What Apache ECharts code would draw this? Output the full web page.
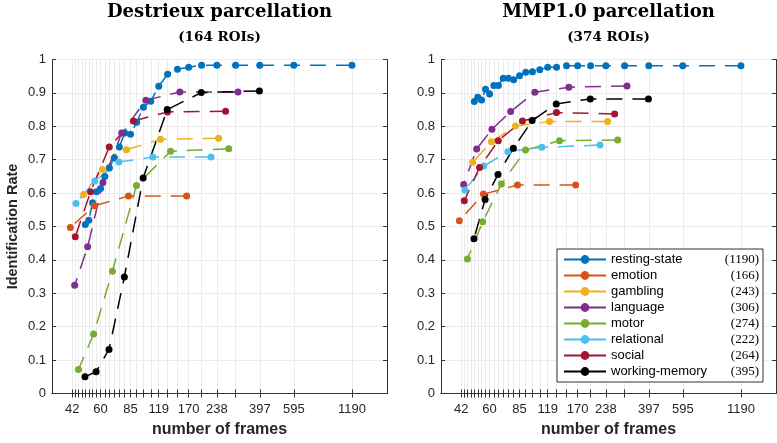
<!DOCTYPE html>
<html><head><meta charset="utf-8">
<script src="https://cdn.jsdelivr.net/npm/echarts@6/dist/echarts.min.js"></script>
<style>html,body{margin:0;padding:0;background:#fff}#c{width:777px;height:443px}</style>
</head><body><div id="c"></div>
<script>
// ---------- data ----------
const seriesNames = ['resting-state','emotion','gambling','language','motor','relational','social','working-memory'];
const taskCounts = [1190,166,243,306,274,222,264,395];
const seriesColors = ['#0072BD','#D95319','#EDB120','#7E2F8E','#77AC30','#4DBEEE','#A2142F','#000000'];

const tickFrames = [1190,595,396.7,297.5,238,198.3,170,148.8,132.2,119,108.2,99.2,91.5,85,79.3,74.4,70,66.1,62.6,59.5,56.7,54.1,51.7,49.6,47.6,45.8,44.1,42.5];
const labelFrames = [42.5,59.5,85,119,170,238,396.7,595,1190];
const labelTexts = ['42','60','85','119','170','238','397','595','1190'];

const restingFrames = [1190,595,396.7,297.5,238,198.3,170,148.8,132.2,119,108.2,99.2,91.5,85,79.3,74.4,70,66.1,62.6,59.5,56.7,54.1,51.7,49.6];
const emotionFrames = [166,83,55.3,41.5];
const gamblingFrames = [243,121.5,81,60.8,48.6];
const languageFrames = [306,153,102,76.5,61.2,51,43.7];
const motorFrames = [274,137,91.3,68.5,54.8,45.7];
const relationalFrames = [222,111,74,55.5,44.4];
const socialFrames = [264,132,88,66,52.8,44];
const wmFrames = [395,197.5,131.7,98.8,79,65.8,56.4,49.4];

// Destrieux parcellation
const restingD = [0.983,0.983,0.983,0.983,0.983,0.983,0.977,0.971,0.956,0.92,0.875,0.857,0.812,0.776,0.78,0.738,0.705,0.675,0.65,0.614,0.604,0.571,0.519,0.506];
const emotionD = [0.591,0.591,0.562,0.497];
const gamblingD = [0.764,0.761,0.73,0.671,0.596];
const languageD = [0.903,0.903,0.878,0.78,0.632,0.439,0.324];
const motorD = [0.733,0.725,0.623,0.366,0.178,0.072];
const relationalD = [0.708,0.708,0.693,0.636,0.569];
const socialD = [0.845,0.843,0.816,0.738,0.604,0.469];
const wmD = [0.906,0.901,0.85,0.645,0.349,0.132,0.065,0.05];

// MMP1.0 parcellation
const restingM = [0.981,0.981,0.981,0.981,0.981,0.981,0.981,0.981,0.977,0.977,0.969,0.963,0.962,0.951,0.939,0.944,0.944,0.922,0.922,0.897,0.911,0.879,0.887,0.874];
const emotionM = [0.624,0.624,0.597,0.517];
const gamblingM = [0.814,0.814,0.801,0.754,0.692];
const languageM = [0.921,0.917,0.902,0.844,0.791,0.732,0.626];
const motorM = [0.759,0.757,0.729,0.627,0.514,0.403];
const relationalM = [0.744,0.737,0.724,0.681,0.609];
const socialM = [0.837,0.841,0.816,0.757,0.677,0.577];
const wmM = [0.882,0.882,0.867,0.817,0.734,0.656,0.581,0.463];

// ---------- chart ----------
const framesList = [restingFrames,emotionFrames,gamblingFrames,languageFrames,motorFrames,relationalFrames,socialFrames,wmFrames];
const valsD = [restingD,emotionD,gamblingD,languageD,motorD,relationalD,socialD,wmD];
const valsM = [restingM,emotionM,gamblingM,languageM,motorM,relationalM,socialM,wmM];

const L = Math.log10;
const xMin = L(33.35), xMax = L(1807);
const tickLogs = tickFrames.map(L);
const labelLogs = labelFrames.map(L);
const axisColor = '#333333';
const txtColor = '#262626';
const sans = 'Liberation Sans';

const grids = [
  {left: 52, top: 59.5, width: 335, height: 334},
  {left: 441, top: 59.5, width: 335, height: 334}
];

function xAxes(g) {
  const base = {
    type: 'value', gridIndex: g, min: xMin, max: xMax,
    axisLine: {show: true, lineStyle: {color: axisColor, width: 1}},
    axisTick: {show: true, inside: true, length: 4, customValues: tickLogs, lineStyle: {color: axisColor, width: 1}},
  };
  return [
    Object.assign({}, base, {
      position: 'bottom',
      axisLabel: {show: true, customValues: labelLogs, color: txtColor, fontSize: 13, fontFamily: sans, margin: 9,
        formatter: v => { let b = 0, d = 1e9; labelLogs.forEach((l, i) => { if (Math.abs(l - v) < d) { d = Math.abs(l - v); b = i; } }); return labelTexts[b]; }},
      splitLine: {show: true, lineStyle: {color: '#ebebeb', width: 1}},
      name: 'number of frames', nameLocation: 'middle', nameGap: 28,
      nameTextStyle: {fontFamily: sans, fontWeight: 'bold', fontSize: 16, color: txtColor}
    }),
    Object.assign({}, base, {position: 'top', axisLabel: {show: false}, splitLine: {show: false}})
  ];
}
function yAxes(g) {
  const base = {
    type: 'value', gridIndex: g, min: 0, max: 1, interval: 0.1,
    axisLine: {show: true, lineStyle: {color: axisColor, width: 1}},
    axisTick: {show: true, inside: true, length: 4, lineStyle: {color: axisColor, width: 1}},
  };
  const left = Object.assign({}, base, {
    position: 'left',
    axisLabel: {show: true, color: txtColor, fontSize: 13, fontFamily: sans, margin: 6, formatter: v => String(+v.toFixed(1))},
    splitLine: {show: true, lineStyle: {color: '#ebebeb', width: 1}}
  });
  if (g === 0) {
    Object.assign(left, {name: 'Identification Rate', nameLocation: 'middle', nameGap: 32,
      nameTextStyle: {fontFamily: sans, fontWeight: 'bold', fontSize: 14.5, color: txtColor}});
  }
  return [left, Object.assign({}, base, {position: 'right', axisLabel: {show: false}, splitLine: {show: false}})];
}

const series = [];
[valsD, valsM].forEach((vals, g) => {
  seriesNames.forEach((name, i) => {
    series.push({
      type: 'line', name: name, xAxisIndex: g * 2, yAxisIndex: g * 2,
      data: framesList[i].map((f, j) => [L(f), vals[i][j]]),
      symbol: 'circle', symbolSize: 7, showSymbol: true,
      lineStyle: {width: 1.5, type: [16, 10], color: seriesColors[i]},
      itemStyle: {color: seriesColors[i]},
      emphasis: {disabled: true}, animation: false
    });
  });
});

const chart = echarts.init(document.getElementById('c'), null, {renderer: 'canvas'});
chart.setOption({
  backgroundColor: '#ffffff',
  animation: false,
  grid: grids,
  xAxis: [].concat(xAxes(0), xAxes(1)),
  yAxis: [].concat(yAxes(0), yAxes(1)),
  legend: {
    show: true, orient: 'vertical', left: 557, top: 249,
    padding: [4, 4, 4, 6], itemWidth: 42, itemHeight: 11, itemGap: 3,
    borderColor: '#333333', borderWidth: 1, backgroundColor: '#ffffff',
    data: seriesNames,
    lineStyle: {type: 'solid'},
    textStyle: {fontFamily: sans, fontSize: 13, color: '#000',
      rich: {n: {width: 111, fontFamily: sans, fontSize: 13, color: '#000'},
             c: {width: 37, align: 'right', fontFamily: 'Liberation Serif', fontSize: 13, color: '#000'}}},
    formatter: name => '{n|' + name + '}{c|(' + taskCounts[seriesNames.indexOf(name)] + ')}'
  },
  graphic: [
    {type: 'text', x: 219.5, y: 12.5, style: {text: 'Destrieux parcellation', font: 'bold 18px "DejaVu Serif"', fill: '#000', align: 'center', verticalAlign: 'middle', textAlign: 'center', textVerticalAlign: 'middle'}},
    {type: 'text', x: 219.5, y: 37, style: {text: '(164 ROIs)', font: 'bold 13.5px "DejaVu Serif"', fill: '#000', align: 'center', verticalAlign: 'middle', textAlign: 'center', textVerticalAlign: 'middle'}},
    {type: 'text', x: 608.5, y: 12.5, style: {text: 'MMP1.0 parcellation', font: 'bold 18px "DejaVu Serif"', fill: '#000', align: 'center', verticalAlign: 'middle', textAlign: 'center', textVerticalAlign: 'middle'}},
    {type: 'text', x: 608.5, y: 37, style: {text: '(374 ROIs)', font: 'bold 13.5px "DejaVu Serif"', fill: '#000', align: 'center', verticalAlign: 'middle', textAlign: 'center', textVerticalAlign: 'middle'}}
  ],
  series: series
});
</script></body></html>
